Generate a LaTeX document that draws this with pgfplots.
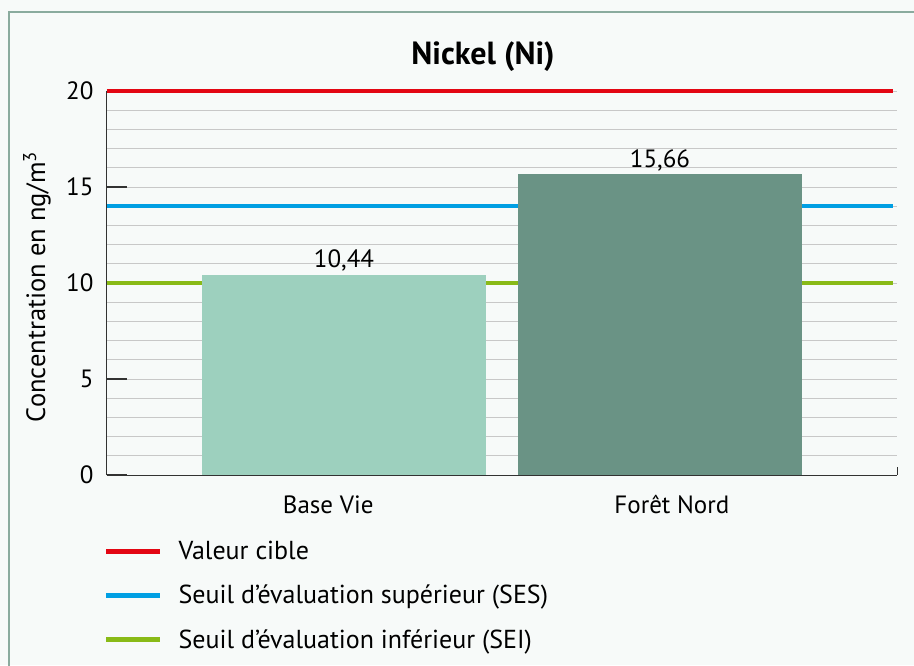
\documentclass[border=0pt]{standalone}
\usepackage{pgfplots}
\pgfplotsset{compat=1.18}
\usepackage{fontspec}
\setmainfont{PT Sans}
\definecolor{frame}{RGB}{138,171,158}
\definecolor{bgc}{RGB}{247,250,249}
\definecolor{barA}{RGB}{157,208,190}
\definecolor{barB}{RGB}{106,147,133}
\definecolor{cred}{RGB}{227,6,19}
\definecolor{cblue}{RGB}{0,159,227}
\definecolor{cgreen}{RGB}{137,186,23}
\definecolor{gridc}{RGB}{200,200,200}
\definecolor{axc}{RGB}{50,50,50}
\begin{document}
\begin{tikzpicture}[x=1pt,y=1pt]
\useasboundingbox (0,0) rectangle (914,665);
\fill[bgc] (0,0) rectangle (914,665);
\draw[frame, line width=1.5pt] (9,-5) -- (9,653) -- (920,653);
\begin{axis}[
  at={(107pt,190pt)}, anchor=origin,
  scale only axis, width=790pt, height=384pt,
  xmin=0, xmax=2, ymin=0, ymax=20,
  axis x line=bottom, axis y line=left,
  axis line style={-, axc, line width=1pt},
  font=\fontsize{25}{30}\selectfont,
  /pgf/number format/assume math mode=true,
  ytick={0,5,10,15,20},
  minor ytick={1,2,3,4,6,7,8,9,11,12,13,14,16,17,18,19},
  ymajorgrids, yminorgrids,
  major grid style={gridc, line width=0.8pt},
  minor grid style={gridc, line width=0.8pt},
  minor tick length=0pt,
  major tick length=20pt,
  tick align=inside,
  ytick style={axc, line width=1.2pt},
  yticklabel style={xshift=-10pt},
  xtick={0.56,1.43},
  xticklabels={Base Vie, Forêt Nord},
  xtick style={draw=none},
  xticklabel style={yshift=-17pt},
  ylabel={\fontsize{26.5}{30}\selectfont Concentration en ng/m\textsuperscript{3}},
  ylabel style={at={(axis description cs:-0.0886,0.49)}, anchor=center},
  title={\bfseries\fontsize{32}{36}\selectfont Nickel (Ni)},
  title style={at={(axis description cs:0.476,1.075)}, anchor=center},
  legend style={at={(axis description cs:-0.004,-0.167)}, anchor=north west, draw=none, fill=none, inner sep=0pt,
    font=\fontsize{26}{31}\selectfont, row sep=20pt, column sep=14pt},
  legend cell align=left,
  legend image code/.code={\draw[#1, line width=4.5pt] (0pt,0pt) -- (54pt,0pt);},
  clip=false,
]
\addplot[cred, line width=3.5pt] coordinates {(0,20) (1.99,20)};
\addlegendentry{Valeur cible}
\addplot[cblue, line width=3.5pt] coordinates {(0,14) (1.99,14)};
\addlegendentry{Seuil d’évaluation supérieur (SES)}
\addplot[cgreen, line width=3.5pt] coordinates {(0,10) (1.99,10)};
\addlegendentry{Seuil d’évaluation inférieur (SEI)}
\addplot[ybar, bar width=0.72, fill=barA, draw=none, forget plot,
  nodes near coords, nodes near coords style={text=black, /pgf/number format/.cd, use comma, fixed, fixed zerofill, precision=2},
  ] coordinates {(0.6,10.44)};
\addplot[ybar, bar width=0.72, fill=barB, draw=none, forget plot,
  nodes near coords, nodes near coords style={text=black, /pgf/number format/.cd, use comma, fixed, fixed zerofill, precision=2},
  ] coordinates {(1.4,15.66)};
\draw[axc, line width=1pt] (axis cs:2,0) -- ++(0pt,8pt);
\end{axis}
\end{tikzpicture}
\end{document}
